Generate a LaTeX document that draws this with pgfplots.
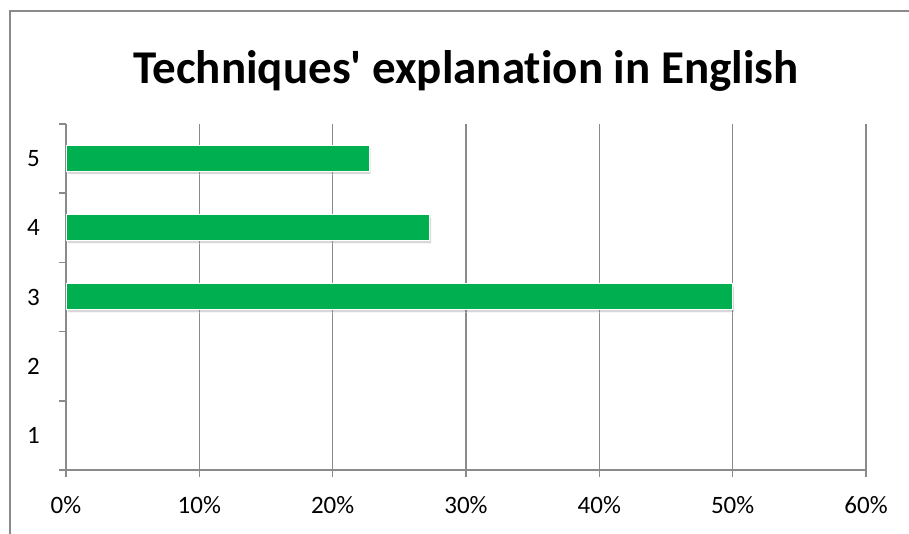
\documentclass[border=0pt]{standalone}
\usepackage{pgfplots}
\pgfplotsset{compat=1.18}
\usepackage{fontspec}
\setmainfont{Carlito}[Ligatures={NoCommon}]
\usetikzlibrary{shadows}
\definecolor{barg}{HTML}{00B050}
\definecolor{gridg}{HTML}{8A8A8A}
\begin{document}
\begin{tikzpicture}[x=1pt,y=1pt]
\useasboundingbox (0,0) rectangle (909,534);
\fill[white] (0,0) rectangle (909,534);
\draw[gridg, line width=2pt] (9.5,-5) -- (9.5,522.5) -- (915,522.5);
\node[font=\fontsize{47}{56}\selectfont\bfseries, anchor=base, inner sep=0pt] at (466,450) {Techniques\textquotesingle{} explanation in English};
\begin{axis}[
  at={(66pt,64pt)}, anchor=south west, scale only axis,
  width=800pt, height=346pt,
  xmin=0, xmax=60, ymin=0.5, ymax=5.5,
  axis x line*=bottom, axis y line*=left,
  xtick={0,10,20,30,40,50,60},
  xticklabel={\pgfmathprintnumber{\tick}\%},
  xticklabel style={yshift=-17pt},
  ytick={0.5,1.5,2.5,3.5,4.5,5.5},
  yticklabels={},
  extra y ticks={1,2,3,4,5},
  extra y tick labels={1,2,3,4,5},
  extra y tick style={major tick length=0pt, yticklabel style={xshift=-24pt}},
  xmajorgrids,
  grid style={gridg, line width=1.5pt},
  axis line style={gridg, line width=1.5pt},
  tick style={gridg, line width=1.5pt},
  major tick length=7pt, tick align=outside,
  /pgf/number format/assume math mode=true,
  ticklabel style={font=\fontsize{25}{30}\selectfont, text=black, inner sep=2pt},
  clip=false,
]
\addplot[xbar, bar width=26pt, fill=barg, draw=white, line width=1pt,
  drop shadow={shadow xshift=1.5pt, shadow yshift=-2.5pt, opacity=0.3}]
  coordinates {(50,3) (27.27,4) (22.73,5)};
\end{axis}
\end{tikzpicture}
\end{document}
